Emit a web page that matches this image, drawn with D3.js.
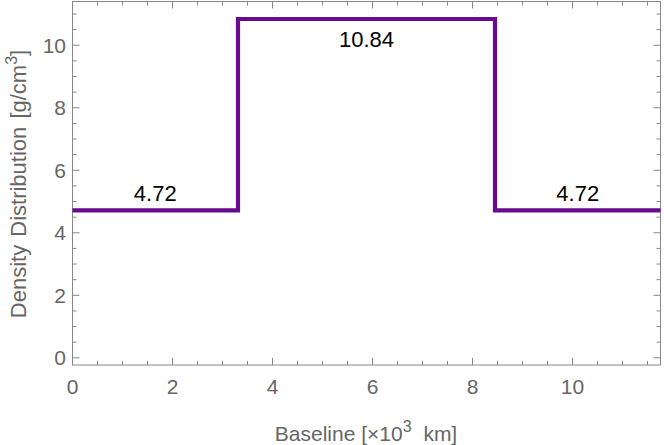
<!DOCTYPE html>
<html><head><meta charset="utf-8">
<script src="https://cdn.jsdelivr.net/npm/d3@7"></script>
<style>body{margin:0;background:#fff}svg{display:block}text{font-family:"Liberation Sans",Arial,sans-serif}</style>
</head><body>
<svg id="c" width="664" height="445"></svg>
<script>
// Step profile: boundaries (x, ×10^3 km) and densities (g/cm^3)
const boundaries = [0, 3.31, 8.45, 11.76];
const densities = [4.72, 10.84, 4.72];
const labels = ["4.72", "10.84", "4.72"];
const xTicks = [0, 2, 4, 6, 8, 10];
const yTicks = [0, 2, 4, 6, 8, 10];
const xDomain = [0, 11.76];
const yDomain = [-0.23, 11.4];

const svg = d3.select("#c");
const L = 72.5, R = 660.5, T = 1.5, B = 365;
const x = d3.scaleLinear().domain(xDomain).range([L, R]);
const y = d3.scaleLinear().domain(yDomain).range([B, T]);
const frameColor = "#888", textColor = "#666";

// frame
svg.append("rect").attr("x", L).attr("y", T).attr("width", R - L).attr("height", B - T)
  .attr("fill", "none").attr("stroke", frameColor).attr("stroke-width", 1);

const xMinor = d3.range(0, 11.76, 0.5);
const yMinor = d3.range(0, 11.4, 0.5);
const g = svg.append("g").attr("stroke", frameColor).attr("stroke-width", 1);
xMinor.forEach(v => {
  const major = Math.abs(v % 2) < 1e-9;
  const len = major ? 7 : 4;
  g.append("line").attr("x1", x(v)).attr("x2", x(v)).attr("y1", B).attr("y2", B - len);
  g.append("line").attr("x1", x(v)).attr("x2", x(v)).attr("y1", T).attr("y2", T + len);
});
yMinor.forEach(v => {
  const major = Math.abs(v % 2) < 1e-9;
  const len = major ? 7 : 4;
  g.append("line").attr("y1", y(v)).attr("y2", y(v)).attr("x1", L).attr("x2", L + len);
  g.append("line").attr("y1", y(v)).attr("y2", y(v)).attr("x1", R).attr("x2", R - len);
});

// tick labels
svg.append("g").selectAll("text").data(xTicks).join("text")
  .attr("x", d => x(d)).attr("y", B + 28.5).attr("text-anchor", "middle")
  .attr("font-size", 21).attr("fill", textColor).text(d => d);
svg.append("g").selectAll("text").data(yTicks).join("text")
  .attr("x", L - 6.5).attr("y", d => y(d) + 7.5).attr("text-anchor", "end")
  .attr("font-size", 21).attr("fill", textColor).text(d => d);

// axis titles
const xt = svg.append("text").attr("x", 366).attr("y", 441).attr("text-anchor", "middle")
  .attr("font-size", 21).attr("fill", textColor);
xt.append("tspan").text("Baseline [\u00d710");
xt.append("tspan").attr("dy", -9).attr("font-size", 16).text("3");
xt.append("tspan").attr("dy", 9).attr("dx", 6).text(" km]");

const yt = svg.append("text").attr("transform", "translate(25.5,184) rotate(-90)")
  .attr("text-anchor", "middle").attr("font-size", 22).attr("word-spacing", 2).attr("fill", textColor);
yt.append("tspan").text("Density Distribution [g/cm");
yt.append("tspan").attr("dy", -9).attr("font-size", 16).text("3");
yt.append("tspan").attr("dy", 9).text("]");

// step line
const pts = [];
densities.forEach((d, i) => { pts.push([boundaries[i], d]); pts.push([boundaries[i + 1], d]); });
svg.append("path").datum(pts)
  .attr("d", d3.line().x(d => x(d[0])).y(d => y(d[1])))
  .attr("fill", "none").attr("stroke", "#6a0a8c").attr("stroke-width", 4.2);

// value labels
svg.append("g").selectAll("text").data(densities).join("text")
  .attr("x", (d, i) => x((boundaries[i] + boundaries[i + 1]) / 2))
  .attr("y", (d, i) => i === 1 ? y(d) + 28 : y(d) - 9.5)
  .attr("text-anchor", "middle").attr("font-size", 22).attr("fill", "#000")
  .text((d, i) => labels[i]);
</script>
</body></html>
